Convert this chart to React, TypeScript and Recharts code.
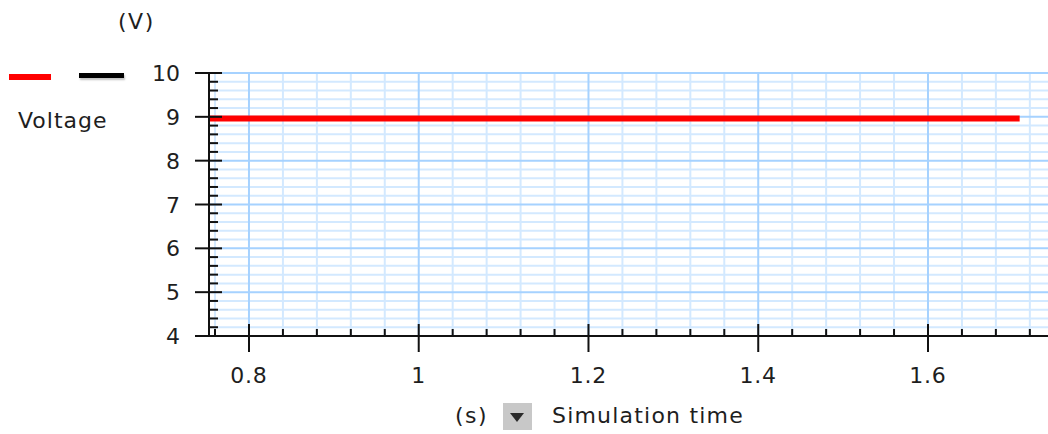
import { LineChart, Line, XAxis, YAxis, ReferenceLine } from 'recharts'

// simulation samples (voltage stays flat)
const times = [0.753, 1.708]
const voltage = [8.96, 8.96]

// axis ticks: minor every 0.04 s / 0.2 V, labelled ones every 0.2 s / 1 V
const xTicks = [0.76, 0.8, 0.84, 0.88, 0.92, 0.96, 1, 1.04, 1.08, 1.12, 1.16, 1.2, 1.24, 1.28, 1.32, 1.36, 1.4, 1.44, 1.48, 1.52, 1.56, 1.6, 1.64, 1.68, 1.72]
const xMajor = [0.8, 1, 1.2, 1.4, 1.6]
const yTicks = [4, 4.2, 4.4, 4.6, 4.8, 5, 5.2, 5.4, 5.6, 5.8, 6, 6.2, 6.4, 6.6, 6.8, 7, 7.2, 7.4, 7.6, 7.8, 8, 8.2, 8.4, 8.6, 8.8, 9, 9.2, 9.4, 9.6, 9.8, 10]
const yMajor = [4, 5, 6, 7, 8, 9, 10]

const data = times.map((t, i) => ({ t, v: voltage[i] }))

const FONT = '"DejaVu Sans", Verdana, sans-serif'
const TEXT = '#1e1e1e'
const AXIS = '#111'
const GRID_MINOR = '#d3e9ff'
const GRID_MAJOR = '#a6d2ff'

const isMajor = (list: number[], v: number) => list.some((m) => Math.abs(m - v) < 1e-6)

function XTick({ x, y, payload }: any) {
    const major = isMajor(xMajor, payload.value)
    return (
        <g>
            <line x1={x} x2={x} y1={y - (major ? 12 : 7)} y2={y + (major ? 16 : 0)} stroke={AXIS} strokeWidth={2} />
            {major && (
                <text x={x} y={y + 47} textAnchor="middle" fontSize={22} fontFamily={FONT} fill={TEXT} letterSpacing={0.8}>
                    {String(payload.value)}
                </text>
            )}
        </g>
    )
}

function YTick({ x, y, payload }: any) {
    const major = isMajor(yMajor, payload.value)
    return (
        <g>
            <line x1={x - (major ? 14 : 0)} x2={x + (major ? 13 : 9)} y1={y} y2={y} stroke={AXIS} strokeWidth={2} />
            {major && (
                <text x={x - 29} y={y + 8} textAnchor="end" fontSize={22} fontFamily={FONT} fill={TEXT}>
                    {String(payload.value)}
                </text>
            )}
        </g>
    )
}

const label = { position: 'absolute' as const, fontSize: 22, fontFamily: FONT, color: TEXT, lineHeight: '28px' }

export default function App() {
    return (
        <div style={{ position: 'absolute', left: 0, top: 0, width: 1048, height: 434, background: '#fff', overflow: 'hidden' }}>
            <LineChart width={1048} height={434} data={data} margin={{ top: 73, right: 0, left: 149, bottom: 48 }}>
                {xTicks.filter((v) => !isMajor(xMajor, v)).map((v) => (
                    <ReferenceLine key={'xm' + v} x={v} stroke={GRID_MINOR} strokeWidth={2} />
                ))}
                {yTicks.filter((v) => !isMajor(yMajor, v)).map((v) => (
                    <ReferenceLine key={'ym' + v} y={v} stroke={GRID_MINOR} strokeWidth={2} />
                ))}
                {xMajor.map((v) => (
                    <ReferenceLine key={'xM' + v} x={v} stroke={GRID_MAJOR} strokeWidth={2} />
                ))}
                {yMajor.map((v) => (
                    <ReferenceLine key={'yM' + v} y={v} stroke={GRID_MAJOR} strokeWidth={2} />
                ))}
                <XAxis
                    type="number"
                    dataKey="t"
                    domain={[0.7529, 1.7414]}
                    allowDataOverflow
                    ticks={xTicks}
                    interval={0}
                    height={50}
                    tickSize={0}
                    tickMargin={0}
                    tickLine={false}
                    tick={<XTick />}
                    axisLine={{ stroke: AXIS, strokeWidth: 2 }}
                />
                <YAxis
                    type="number"
                    domain={[4, 10]}
                    ticks={yTicks}
                    interval={0}
                    width={60}
                    tickSize={0}
                    tickMargin={0}
                    tickLine={false}
                    tick={<YTick />}
                    axisLine={{ stroke: AXIS, strokeWidth: 2 }}
                />
                <Line
                    type="linear"
                    dataKey="v"
                    name="Voltage"
                    stroke="#ff0000"
                    strokeWidth={6}
                    dot={false}
                    isAnimationActive={false}
                />
            </LineChart>

            {/* unit + legend */}
            <div style={{ ...label, left: 118, top: 8, letterSpacing: 1.5 }}>(V)</div>
            <div style={{ position: 'absolute', left: 9, top: 74, width: 42, height: 6, background: '#ff0000' }} />
            <div style={{ position: 'absolute', left: 79, top: 73, width: 45, height: 5, background: '#000', boxShadow: '1px 2px 2px rgba(0,0,0,0.25)' }} />
            <div style={{ ...label, left: 18, top: 107, letterSpacing: 1 }}>Voltage</div>

            {/* x axis title */}
            <div style={{ ...label, left: 455, top: 402, letterSpacing: 1.5 }}>(s)</div>
            <div style={{ position: 'absolute', left: 503, top: 403, width: 29, height: 27, background: '#c8c8c8' }}>
                <div
                    style={{
                        position: 'absolute',
                        left: 7,
                        top: 10,
                        width: 0,
                        height: 0,
                        borderLeft: '7.5px solid transparent',
                        borderRight: '7.5px solid transparent',
                        borderTop: '9px solid #2a2a2a',
                    }}
                />
            </div>
            <div style={{ ...label, left: 552, top: 402, letterSpacing: 1.2 }}>Simulation time</div>
        </div>
    )
}
